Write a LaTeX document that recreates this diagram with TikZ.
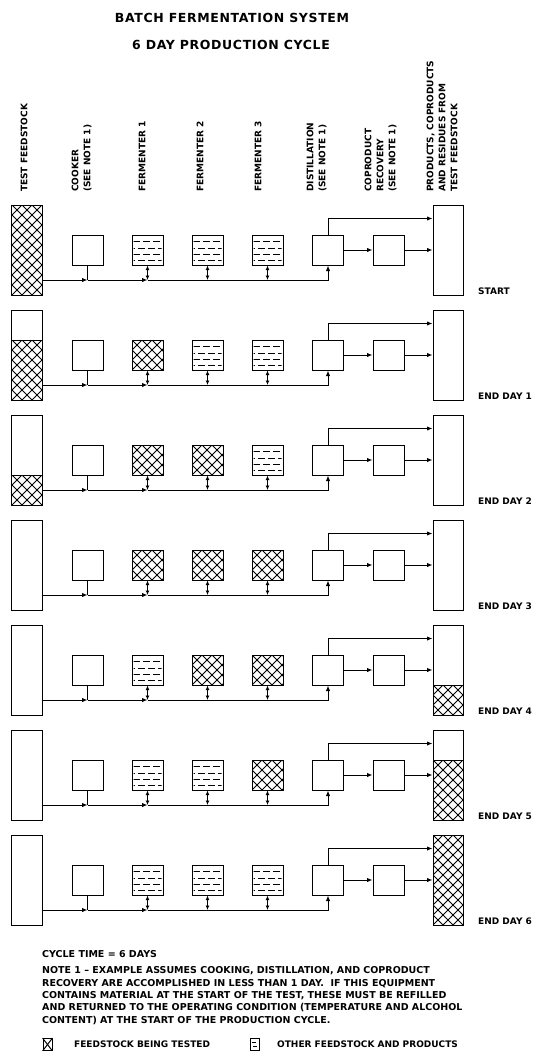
\documentclass[tikz,border=0pt]{standalone}
\usepackage{fontspec}
\newfontfamily\dvs{DejaVu Sans}
\newfontfamily\dvsw{DejaVu Sans}[LetterSpace=5]
\usetikzlibrary{arrows.meta}
\newcommand\myhfont{\dvs\bfseries\fontsize{9bp}{12bp}\selectfont}
\newcommand\mynfont{\dvs\bfseries\fontsize{9.5bp}{12.4bp}\selectfont}
\newcommand\mytfont{\dvsw\bfseries\fontsize{12.5bp}{15bp}\selectfont}
\tikzset{
 boxline/.style={line width=1bp},
 box/.style={draw, line width=1bp, inner sep=0, minimum width=31bp, minimum height=30bp},
 tall/.style={draw, line width=1bp, inner sep=0, minimum width=30bp, minimum height=90bp},
 conn/.style={line width=0.95bp},
 tip/.style={-{Latex[length=5.5bp,width=4.4bp]}},
 dtip/.style={{Latex[length=4.5bp,width=4bp]}-{Latex[length=4.5bp,width=4bp]}},
 hatchline/.style={line width=1bp},
 dashline/.style={line width=1bp, dash pattern=on 7bp off 3bp},
 hdr/.style={font=\myhfont, rotate=90, anchor=west, inner sep=0, text height=6.6bp, text depth=0bp},
 lab/.style={font=\myhfont, anchor=west, inner sep=0, text height=6.6bp, text depth=0bp},
 nlab/.style={font=\mynfont, anchor=west, inner sep=0, text height=6.9bp, text depth=0bp},
 ttl/.style={font=\mytfont, inner sep=0, text height=9bp, text depth=0bp},
}
\newcommand\xhatch[4]{%
 \begin{scope}
 \clip (#1,#2) rectangle (#3,#4);
 \foreach \t in {-100,-90,...,130}{
   \draw[hatchline] ({#1+(\t)},#2) -- ++(100,100);
   \draw[hatchline] ({#1+(\t)},#2) -- ++(-100,100);
 }
 \end{scope}}
\newcommand\dsh[4]{%
 \begin{scope}
 \clip ({#1+1.5},#2) rectangle ({#3-1.5},#4);
 \draw[dashline] ({#1+1},{#2+6.5}) -- ({#3},{#2+6.5});
 \draw[dashline,dash phase=5bp] ({#1+1},{#2+13}) -- ({#3},{#2+13});
 \draw[dashline] ({#1+1},{#2+19.3}) -- ({#3},{#2+19.3});
 \draw[dashline,dash phase=5bp] ({#1+1},{#2+25.6}) -- ({#3},{#2+25.6});
 \end{scope}}
\newcommand\fermfill[3]{%
 \ifnum#1=2 \xhatch{#2-15.5}{#3-15}{#2+15.5}{#3+15}\else\dsh{#2-15.5}{#3-15}{#2+15.5}{#3+15}\fi}
\begin{document}
\begin{tikzpicture}[x=1bp,y=-1bp]
\fill[white] (0,0) rectangle (536,1051);
\useasboundingbox (0,0) rectangle (536,1051);
% titles
\node[ttl] (t1) at (232,18) {BATCH FERMENTATION SYSTEM};
\node[ttl] (t2) at (231,45) {6 DAY PRODUCTION CYCLE};
% column headers
\node[hdr] (h1) at (24,192) {TEST FEEDSTOCK};
\node[hdr] (h2) at (75,192) {COOKER};
\node[hdr] (h3) at (87,192) {(SEE NOTE 1)};
\node[hdr] (h4) at (142,192) {FERMENTER 1};
\node[hdr] (h5) at (200,192) {FERMENTER 2};
\node[hdr] (h6) at (258,192) {FERMENTER 3};
\node[hdr] (h7) at (310,192) {DISTILLATION};
\node[hdr] (h8) at (322,192) {(SEE NOTE 1)};
\node[hdr] (h9) at (368,192) {COPRODUCT};
\node[hdr] (h10) at (380,192) {RECOVERY};
\node[hdr] (h11) at (392,192) {(SEE NOTE 1)};
\node[hdr] (h12) at (430,192) {PRODUCTS, COPRODUCTS};
\node[hdr] (h13) at (442,192) {AND RESIDUES FROM};
\node[hdr] (h14) at (454,192) {TEST FEEDSTOCK};
% rows
\foreach \rw/\lfq/\fA/\fB/\fC/\pfq/\rlab in {0/3/1/1/1/0/START,1/2/2/1/1/0/END DAY 1,2/1/2/2/1/0/END DAY 2,3/0/2/2/2/0/END DAY 3,4/0/1/2/2/1/END DAY 4,5/0/1/1/2/2/END DAY 5,6/0/1/1/1/3/END DAY 6}{
 \pgfmathsetmacro\oy{105*\rw}
 \pgfmathsetmacro\cy{250+\oy}
 \ifnum\lfq>0
   \pgfmathsetmacro\hy{295+\oy-30*\lfq}
   \xhatch{12}{\hy}{42}{295+\oy}
   \draw[boxline] (12,\hy) -- (42,\hy);
 \fi
 \ifnum\pfq>0
   \pgfmathsetmacro\hy{295+\oy-30*\pfq}
   \xhatch{433}{\hy}{463}{295+\oy}
   \draw[boxline] (433,\hy) -- (463,\hy);
 \fi
 \fermfill{\fA}{147.5}{\cy}
 \fermfill{\fB}{207.5}{\cy}
 \fermfill{\fC}{267.5}{\cy}
 \node[tall] (L\rw) at (27,\cy) {};
 \node[box] (K\rw) at (87.5,\cy) {};
 \node[box] (Fa\rw) at (147.5,\cy) {};
 \node[box] (Fb\rw) at (207.5,\cy) {};
 \node[box] (Fc\rw) at (267.5,\cy) {};
 \node[box] (D\rw) at (328,\cy) {};
 \node[box] (C\rw) at (388.5,\cy) {};
 \node[tall] (P\rw) at (448,\cy) {};
 \node[lab] (R\rw) at (478,291+\oy) {\rlab};
 \path (L\rw.east) ++(0,30) coordinate (s\rw);
 \path (P\rw.north west) ++(0,14) coordinate (t\rw);
 \draw[conn,tip] (s\rw) -- (s\rw -| K\rw.south);
 \draw[conn] (K\rw.south) -- (s\rw -| K\rw.south);
 \draw[conn,tip] (s\rw -| K\rw.south) -- (s\rw -| Fa\rw.south);
 \draw[conn,tip] (s\rw -| Fa\rw.south) -| (D\rw.south);
 \draw[conn,dtip] (Fa\rw.south) -- (s\rw -| Fa\rw.south);
 \draw[conn,dtip] (Fb\rw.south) -- (s\rw -| Fb\rw.south);
 \draw[conn,dtip] (Fc\rw.south) -- (s\rw -| Fc\rw.south);
 \draw[conn,tip] (D\rw.east) -- (C\rw.west);
 \draw[conn,tip] (C\rw.east) -- (C\rw.east -| P\rw.west);
 \draw[conn,tip] (D\rw.north) |- (t\rw);
}
% notes
\node[nlab] (n1) at (42,954) {CYCLE TIME = 6 DAYS};
\node[font=\mynfont, align=left, anchor=north west, inner sep=0] (n2) at (42,966.5) {NOTE 1 – EXAMPLE ASSUMES COOKING, DISTILLATION, AND COPRODUCT\\RECOVERY ARE ACCOMPLISHED IN LESS THAN 1 DAY.\ \ IF THIS EQUIPMENT\\CONTAINS MATERIAL AT THE START OF THE TEST, THESE MUST BE REFILLED\\AND RETURNED TO THE OPERATING CONDITION (TEMPERATURE AND ALCOHOL\\CONTENT) AT THE START OF THE PRODUCTION CYCLE.};
% legend
\node[draw, line width=0.9bp, inner sep=0, minimum width=9bp, minimum height=12bp] (lg1) at (47.5,1044.5) {};
\draw[hatchline] (lg1.north west) -- (lg1.south east);
\draw[hatchline] (lg1.north east) -- (lg1.south west);
\node[lab] (lt1) at (74,1044) {FEEDSTOCK BEING TESTED};
\node[draw, line width=0.9bp, inner sep=0, minimum width=9bp, minimum height=12bp] (lg2) at (255,1044.5) {};
\draw[hatchline] ([xshift=2bp,yshift=-4bp]lg2.north west) -- ++(4,0);
\draw[hatchline] ([xshift=3bp,yshift=4bp]lg2.south west) -- ++(4,0);
\node[lab] (lt2) at (277,1044) {OTHER FEEDSTOCK AND PRODUCTS};
\end{tikzpicture}
\end{document}
